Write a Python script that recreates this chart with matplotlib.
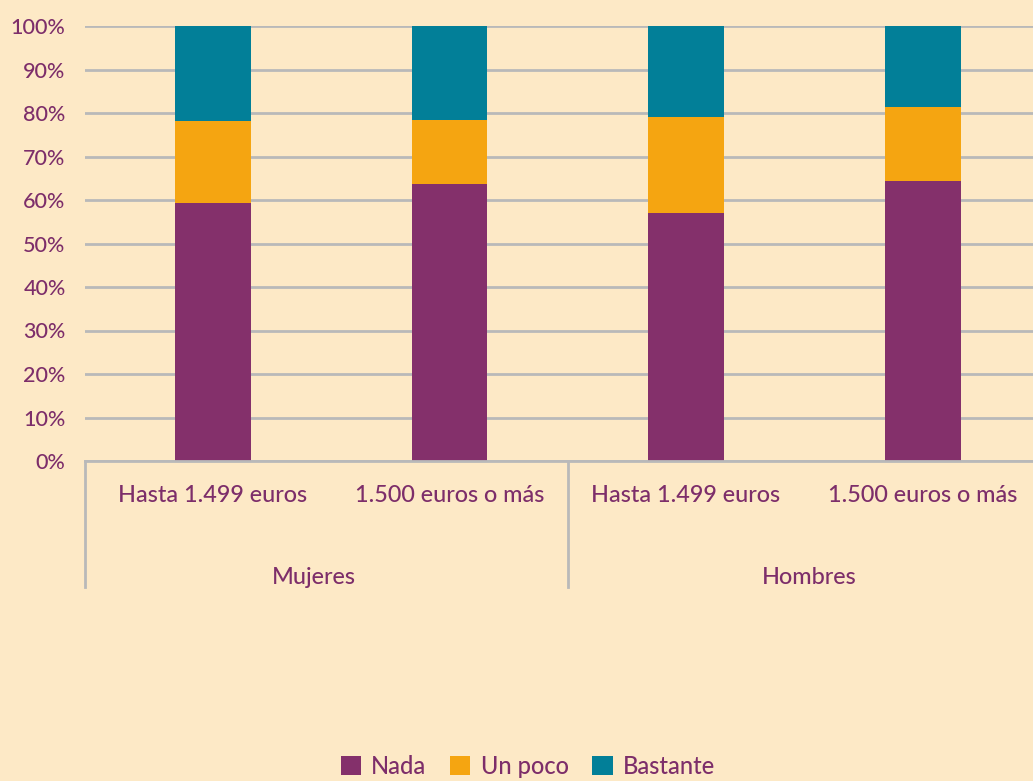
import matplotlib
matplotlib.use("Agg")
import matplotlib.pyplot as plt
import matplotlib.transforms as mtransforms
import numpy as np

# ---- data ----
categories = ["Hasta 1.499 euros", "1.500 euros o más", "Hasta 1.499 euros", "1.500 euros o más"]
groups = ["Mujeres", "Hombres"]
series_names = ["Nada", "Un poco", "Bastante"]
nada = [59.3, 63.7, 57.0, 64.4]
un_poco = [18.9, 14.7, 22.1, 17.0]
bastante = [21.8, 21.6, 20.9, 18.6]
y_ticks = [0, 10, 20, 30, 40, 50, 60, 70, 80, 90, 100]

# ---- style ----
BG = "#FDE9C6"
TXT = "#7D2E6A"
GRID = "#B9B9B9"
colors = ["#84306B", "#F5A511", "#027F98"]
plt.rcParams["font.family"] = ["Lato", "DejaVu Sans"]

W, H = 1033, 781
fig = plt.figure(figsize=(W / 100, H / 100), dpi=100, facecolor=BG)
ax = fig.add_axes([85 / W, (H - 461) / H, (W - 85) / W, 435 / H])
ax.set_facecolor(BG)

x = np.arange(len(categories))
bw = 0.321
bottom = np.zeros(len(categories))
for name, vals, c in zip(series_names, [nada, un_poco, bastante], colors):
    ax.bar(x, vals, bw, bottom=bottom, color=c, label=name, zorder=3)
    bottom += np.array(vals)

ax.set_xlim(-0.541, 3.467)
ax.set_ylim(0, 100)
ax.set_yticks(y_ticks)
ax.set_yticklabels([f"{v}%" for v in y_ticks])
ax.yaxis.grid(True, color=GRID, linewidth=2, zorder=0)
ax.set_axisbelow(True)
for s in ["top", "right", "left"]:
    ax.spines[s].set_visible(False)
ax.spines["bottom"].set_color(GRID)
ax.spines["bottom"].set_linewidth(2)
ax.spines["bottom"].set_zorder(4)
ax.tick_params(axis="y", length=0, pad=14, labelsize=15.5, labelcolor=TXT)
ax.tick_params(axis="x", length=0, labelbottom=False)
for t in ax.get_yticklabels():
    t.set_fontweight("medium")

# category labels and group labels
trans = mtransforms.blended_transform_factory(ax.transData, ax.transAxes)
for xi, lab in zip(x, categories):
    ax.text(xi, -34 / 435, lab, transform=trans, ha="center", va="center",
            fontsize=16.8, color=TXT, fontweight="medium")
group_x = [0.425, 2.52]
for gx, g in zip(group_x, groups):
    ax.text(gx, -116 / 435, g, transform=trans, ha="center", va="center",
            fontsize=16.8, color=TXT, fontweight="medium")
for dx in [-0.541, 1.5]:
    ax.plot([dx, dx], [0, -126 / 435], transform=trans, color=GRID,
            linewidth=2, clip_on=False, zorder=4)

leg = fig.legend(loc="lower center", ncol=3, frameon=False,
                 prop={"size": 17, "weight": "medium"},
                 bbox_to_anchor=(528 / W, -0.023), handlelength=0.85, handleheight=0.85,
                 handletextpad=0.45, columnspacing=1.0)
for t in leg.get_texts():
    t.set_color(TXT)

fig.savefig("out.png", dpi=100, facecolor=BG)
